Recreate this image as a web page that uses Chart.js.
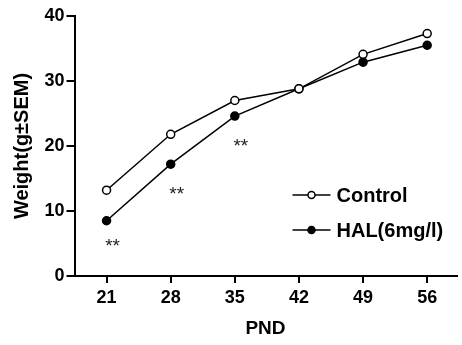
<!DOCTYPE html>
<html>
<head>
<meta charset="utf-8">
<script src="https://cdn.jsdelivr.net/npm/chart.js@4"></script>
<style>
  html, body { margin: 0; padding: 0; background: #fff; }
  #wrap { width: 462px; height: 345px; }
</style>
</head>
<body>
<div id="wrap"><canvas id="chart" width="462" height="345"></canvas></div>
<script>
// postnatal day (x) and body weight series
const days = [21, 28, 35, 42, 49, 56]
const control = [13.2, 21.8, 27.0, 28.8, 34.1, 37.3]
const hal = [8.5, 17.2, 24.6, 28.8, 32.9, 35.5]
const yTicks = [0, 10, 20, 30, 40]

// significance marks: day and the weight level they sit at
const starDays = [21, 28, 35]
const starLevel = [5.0, 13.0, 20.4]
const starText = '**'

const legendLabels = ['Control', 'HAL(6mg/l)']

const FONT = 'Arial, "Liberation Sans", Helvetica, sans-serif'

const starsPlugin = {
  id: 'stars',
  afterDatasetsDraw(chart) {
    const { ctx, scales } = chart
    ctx.save()
    ctx.font = '19px ' + FONT
    ctx.fillStyle = '#222'
    ctx.textAlign = 'center'
    ctx.textBaseline = 'middle'
    starDays.forEach((d, i) => {
      ctx.fillText(starText, scales.x.getPixelForValue(d) + 6, scales.y.getPixelForValue(starLevel[i]) + 3)
    })
    ctx.restore()
  }
}

// legend drawn inside the plot area, lower right
const insideLegend = {
  id: 'insideLegend',
  afterDraw(chart) {
    const { ctx, chartArea } = chart
    const x0 = chartArea.right - 164
    const y0 = chartArea.top + 179
    ctx.save()
    ctx.font = 'bold 20px ' + FONT
    ctx.textBaseline = 'middle'
    chart.data.datasets.forEach((ds, i) => {
      const y = y0 + i * 35
      ctx.strokeStyle = '#000'
      ctx.lineWidth = 1.5
      ctx.beginPath()
      ctx.moveTo(x0, y)
      ctx.lineTo(x0 + 38, y)
      ctx.stroke()
      ctx.beginPath()
      ctx.arc(x0 + 19, y, 3.5, 0, Math.PI * 2)
      ctx.fillStyle = ds.pointBackgroundColor
      ctx.fill()
      ctx.stroke()
      ctx.fillStyle = '#000'
      ctx.fillText(legendLabels[i], x0 + 44, y + 1)
    })
    ctx.restore()
  }
}

new Chart(document.getElementById('chart'), {
  type: 'line',
  data: {
    datasets: [
      {
        label: legendLabels[0],
        data: days.map((d, i) => ({ x: d, y: control[i] })),
        borderColor: '#000',
        borderWidth: 1.5,
        pointRadius: 4,
        pointBorderWidth: 1.5,
        pointBackgroundColor: '#fff',
        pointBorderColor: '#000',
        tension: 0
      },
      {
        label: legendLabels[1],
        data: days.map((d, i) => ({ x: d, y: hal[i] })),
        borderColor: '#000',
        borderWidth: 1.5,
        pointRadius: 4,
        pointBorderWidth: 1.5,
        pointBackgroundColor: '#000',
        pointBorderColor: '#000',
        tension: 0
      }
    ]
  },
  options: {
    responsive: false,
    animation: false,
    devicePixelRatio: 1,
    layout: { padding: { top: 16, right: 0, left: 0, bottom: 0 } },
    plugins: {
      legend: { display: false },
      tooltip: { enabled: false }
    },
    scales: {
      x: {
        type: 'linear',
        min: 17.5,
        max: 59.2,
        afterBuildTicks: (scale) => { scale.ticks = days.map(v => ({ value: v })) },
        afterFit: (scale) => { scale.height = 69 },
        border: { color: '#000', width: 2 },
        grid: { drawOnChartArea: false, drawTicks: true, tickLength: 7, color: '#000', lineWidth: 2 },
        ticks: { color: '#000', padding: 4, font: { family: FONT, size: 18, weight: 'bold' } },
        title: {
          display: true,
          text: 'PND',
          color: '#000',
          padding: { top: 0, bottom: 5 },
          font: { family: FONT, size: 19, weight: 'bold' }
        }
      },
      y: {
        min: 0,
        max: 40,
        afterBuildTicks: (scale) => { scale.ticks = yTicks.map(v => ({ value: v })) },
        afterFit: (scale) => { scale.width = 74.5 },
        border: { color: '#000', width: 2 },
        grid: { drawOnChartArea: false, drawTicks: true, tickLength: 8, color: '#000', lineWidth: 2 },
        ticks: { color: '#000', padding: 2, font: { family: FONT, size: 18, weight: 'bold' } },
        title: {
          display: true,
          text: 'Weight(g±SEM)',
          color: '#000',
          padding: { top: 10, bottom: 0 },
          font: { family: FONT, size: 20, weight: 'bold' }
        }
      }
    }
  },
  plugins: [starsPlugin, insideLegend]
})
</script>
</body>
</html>
